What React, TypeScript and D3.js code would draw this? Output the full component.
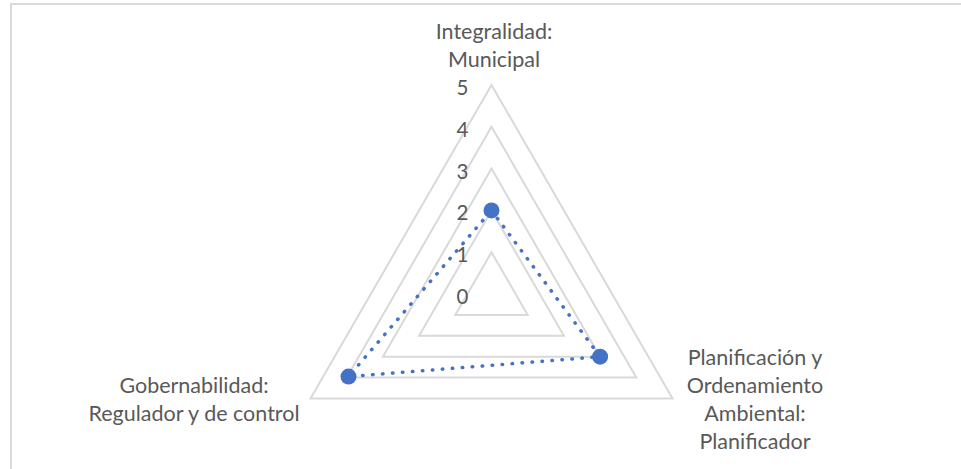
import React from "react";
import * as d3 from "d3";

const categories: string[][] = [
  ["Integralidad:", "Municipal"],
  ["Planificación y", "Ordenamiento", "Ambiental:", "Planificador"],
  ["Gobernabilidad:", "Regulador y de control"],
];
const values: number[] = [2, 3, 3.95];
const ticks: number[] = [0, 1, 2, 3, 4, 5];

const W = 961;
const H = 469;
const cx = 491.5;
const cy = 294;
const R = 209;
const FONT = "Lato, 'Open Sans', sans-serif";
const TEXT = "#595959";
const GRID = "#d9d9d9";
const BLUE = "#4472C4";

export default function App() {
  const r = d3.scaleLinear().domain([0, 5]).range([0, R]);
  const angle = d3
    .scaleLinear()
    .domain([0, categories.length])
    .range([-Math.PI / 2, (3 * Math.PI) / 2]);
  const pt = (i: number, v: number): [number, number] => [
    cx + r(v) * Math.cos(angle(i)),
    cy + r(v) * Math.sin(angle(i)),
  ];
  const closed = d3.line().curve(d3.curveLinearClosed);

  const labelPos = [
    { x: 494, y: 31, anchor: "middle" },
    { x: 755, y: 357, anchor: "middle" },
    { x: 194, y: 385, anchor: "middle" },
  ];
  const lh = 28;

  return (
    <svg
      width={W}
      height={H}
      style={{ position: "absolute", left: 0, top: 0, background: "#fff" }}
      fontFamily={FONT}
    >
      <rect x={11} y={4} width={W + 20} height={H + 20} fill="#fff" stroke={GRID} strokeWidth={2} />
      {ticks
        .filter((t) => t > 0)
        .map((t) => (
          <path
            key={t}
            d={closed(categories.map((_, i) => pt(i, t))) || ""}
            fill="none"
            stroke={GRID}
            strokeWidth={2}
          />
        ))}
      {ticks.map((t) => (
        <text
          key={t}
          x={cx - 23}
          y={cy - r(t) + 2}
          textAnchor="end"
          dominantBaseline="central"
          fontSize={20.5}
          fill={TEXT}
        >
          {t}
        </text>
      ))}
      <path
        d={closed(values.map((v, i) => pt(i, v))) || ""}
        fill="none"
        stroke={BLUE}
        strokeWidth={3.5}
        strokeLinecap="round"
        strokeDasharray="0.5 9.5"
      />
      {values.map((v, i) => {
        const [x, y] = pt(i, v);
        return <circle key={i} cx={x} cy={y} r={8} fill={BLUE} />;
      })}
      {categories.map((lines, i) => (
        <text
          key={i}
          x={labelPos[i].x}
          y={labelPos[i].y}
          textAnchor={labelPos[i].anchor as any}
          dominantBaseline="central"
          fontSize={21.5}
          fill={TEXT}
        >
          {lines.map((l, j) => (
            <tspan key={j} x={labelPos[i].x} dy={j === 0 ? 0 : lh}>
              {l}
            </tspan>
          ))}
        </text>
      ))}
    </svg>
  );
}
